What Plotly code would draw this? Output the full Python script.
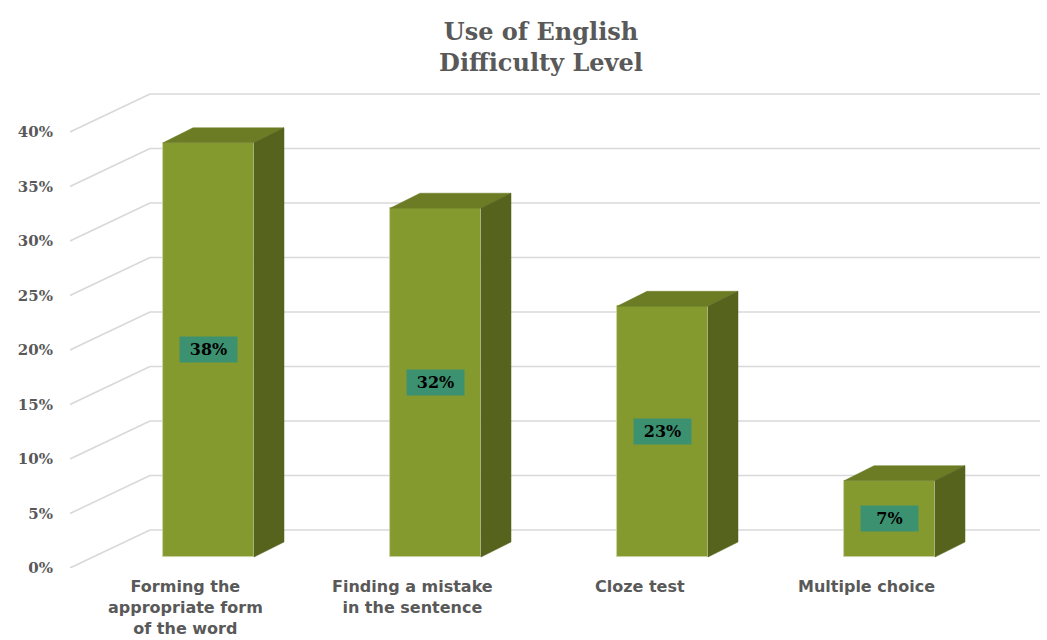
import plotly.graph_objects as go

# ---------------- data ----------------
categories = [
    "Forming the<br>appropriate form<br>of the word",
    "Finding a mistake<br>in the sentence",
    "Cloze test",
    "Multiple choice",
]
values = [38, 32, 23, 7]
value_labels = ["38%", "32%", "23%", "7%"]
tick_vals = [0, 5, 10, 15, 20, 25, 30, 35, 40]
tick_text = ["0%", "5%", "10%", "15%", "20%", "25%", "30%", "35%", "40%"]
title_text = "Use of English<br>Difficulty Level"

# ---------------- geometry / style ----------------
W, H = 1047, 640
M_L, M_R, M_T, M_B = 70, 7, 80, 72
PX_PER_PCT = 10.9
PX_PER_CAT = 227.0
plot_w = W - M_L - M_R
plot_h = H - M_T - M_B
X_MIN = (M_L - 208.5) / PX_PER_CAT
X_MAX = X_MIN + plot_w / PX_PER_CAT
Y_MAX = plot_h / PX_PER_PCT

BAR_W = 91 / PX_PER_CAT
BASE_LIFT = 11 / PX_PER_PCT          # bar front plane above the floor's front edge
DEPTH_DX = 30 / PX_PER_CAT           # bar depth
DEPTH_DY = 15 / PX_PER_PCT
WALL_DX = 80 / PX_PER_CAT            # back wall depth
WALL_DY = 38 / PX_PER_PCT
LABEL_SHIFT = -0.1                   # category labels sit on the front plane

C_FRONT = "#849A2E"
C_TOP = "#6B7C25"
C_SIDE = "#55631C"
C_GRID = "#D9D9D9"
C_TEXT = "#595959"
C_LABEL_BG = "#3C9270"

fig = go.Figure()

# gridlines (below the bars): diagonal floor-side line + back-wall line
shapes = []
for v in tick_vals:
    shapes.append(dict(type="line", xref="x", yref="y", layer="below",
                       x0=X_MIN, y0=v, x1=X_MIN + WALL_DX, y1=v + WALL_DY,
                       line=dict(color=C_GRID, width=1.6)))
    shapes.append(dict(type="line", xref="x", yref="y", layer="below",
                       x0=X_MIN + WALL_DX, y0=v + WALL_DY, x1=X_MAX, y1=v + WALL_DY,
                       line=dict(color=C_GRID, width=1.6)))

# front faces
fig.add_trace(go.Bar(
    x=list(range(len(values))), y=values, base=[BASE_LIFT] * len(values),
    width=BAR_W, marker=dict(color=C_FRONT, line=dict(color="#C9D0A6", width=0.8)),
    showlegend=False, hoverinfo="skip"))

# top and side faces (computed from the values)
for i, v in enumerate(values):
    l, r = i - BAR_W / 2, i + BAR_W / 2
    b, t = BASE_LIFT, BASE_LIFT + v
    fig.add_trace(go.Scatter(
        x=[l, r, r + DEPTH_DX, l + DEPTH_DX, l],
        y=[t, t, t + DEPTH_DY, t + DEPTH_DY, t],
        mode="lines", fill="toself", fillcolor=C_TOP,
        line=dict(color=C_TOP, width=0.5), hoverinfo="skip", showlegend=False))
    fig.add_trace(go.Scatter(
        x=[r, r + DEPTH_DX, r + DEPTH_DX, r, r],
        y=[b, b + DEPTH_DY, t + DEPTH_DY, t, b],
        mode="lines", fill="toself", fillcolor=C_SIDE,
        line=dict(color=C_SIDE, width=0.5), hoverinfo="skip", showlegend=False))

annotations = []
for i, (v, lab) in enumerate(zip(values, value_labels)):
    annotations.append(dict(
        x=i, y=BASE_LIFT + v / 2, xref="x", yref="y", text=lab, showarrow=False,
        width=55, height=23, bgcolor=C_LABEL_BG,
        font=dict(family="DejaVu Serif", size=16, color="#000000", weight="bold")))
for i, c in enumerate(categories):
    annotations.append(dict(
        x=i + LABEL_SHIFT, y=-7 / plot_h, xref="x", yref="paper", text=c,
        showarrow=False, xanchor="center", yanchor="top", align="center",
        font=dict(family="DejaVu Sans", size=16, color=C_TEXT, weight="bold")))

fig.update_layout(
    width=W, height=H,
    margin=dict(l=M_L, r=M_R, t=M_T, b=M_B),
    paper_bgcolor="white", plot_bgcolor="white",
    title=dict(text=title_text, x=541 / W, xanchor="center",
               y=1 - 39.5 / H, yanchor="middle", yref="container",
               font=dict(family="DejaVu Serif", size=24, color=C_TEXT, weight="bold")),
    xaxis=dict(range=[X_MIN, X_MAX], showgrid=False, zeroline=False,
               showline=False, showticklabels=False, fixedrange=True),
    yaxis=dict(range=[0, Y_MAX], showgrid=False, zeroline=False, showline=False,
               tickmode="array", tickvals=tick_vals, ticktext=tick_text,
               ticks="", ticklabelstandoff=16,
               tickfont=dict(family="DejaVu Serif", size=15, color=C_TEXT, weight="bold"),
               fixedrange=True),
    annotations=annotations,
    shapes=shapes,
    bargap=0,
)

fig.write_html("out.html")
